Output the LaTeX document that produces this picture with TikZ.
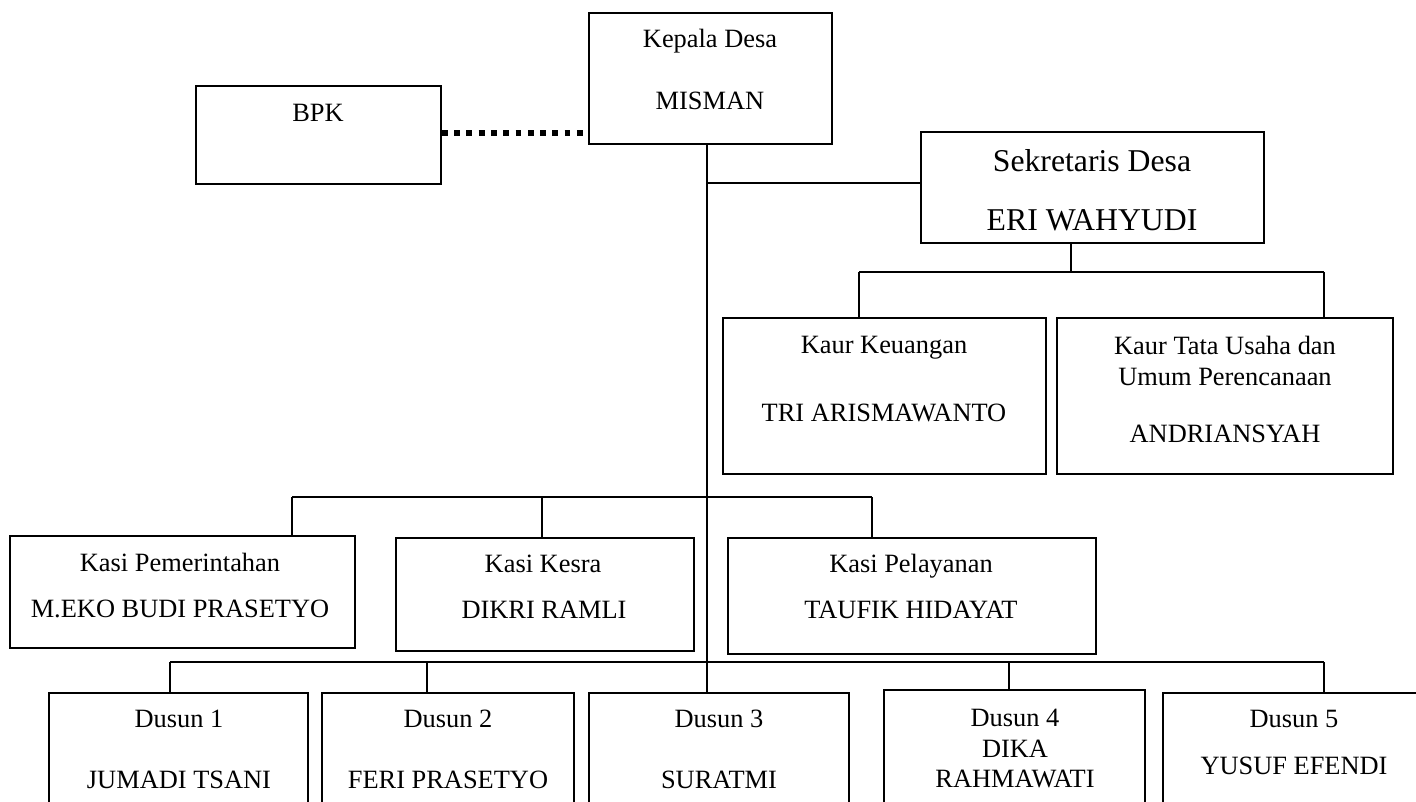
\documentclass[tikz,border=0pt]{standalone}
\usepackage{fontspec}
\setmainfont{Liberation Serif}
\newcommand\bx[5]{\node[box, minimum width={(#4-#2)*0.75pt}, minimum height={(#5-#3)*0.75pt}] (#1) at ({(#2+#4)/2},{(#3+#5)/2}) {};}
\begin{document}
\begin{tikzpicture}[x=0.75pt,y=-0.75pt,
  box/.style={draw, line width=1.4pt, inner sep=0pt},
  conn/.style={line width=1.1pt},
  dotconn/.style={line width=4pt, dash pattern=on 4.4pt off 4.8pt},
  txt/.style={inner sep=0pt, text height=13.1pt, text depth=0pt, font=\fontsize{19.8}{23}\selectfont},
  bigtxt/.style={inner sep=0pt, text height=15.75pt, text depth=0pt, font=\fontsize{23.8}{28}\selectfont}]
\useasboundingbox (0,0) rectangle (1416,802);
\clip (0,0) rectangle (1416,802);
% boxes
\bx{bpk}{196}{86}{441}{184}
\bx{kepala}{589}{13}{832}{144}
\bx{sekdes}{921}{132}{1264}{243}
\bx{kaurk}{723}{318}{1046}{474}
\bx{kaurt}{1057}{318}{1393}{474}
\bx{kasip}{10}{536}{355}{648}
\bx{kasik}{396}{538}{694}{651}
\bx{kasil}{728}{538}{1096}{654}
\bx{dus1}{49}{693}{308}{840}
\bx{dus2}{322}{693}{574}{840}
\bx{dus3}{589}{693}{849}{840}
\bx{dus4}{884}{690}{1145}{840}
\bx{dus5}{1163}{693}{1440}{840}
% texts
\node[txt] (tbpk) at (318,113) {BPK};
\node[txt] (tkep1) at (710,39) {Kepala Desa};
\node[txt] (tkep2) at (710,101) {MISMAN};
\node[bigtxt] (tsek1) at (1092,161) {Sekretaris Desa};
\node[bigtxt] (tsek2) at (1092,220) {ERI WAHYUDI};
\node[txt] (tkk1) at (884,345) {Kaur Keuangan};
\node[txt] (tkk2) at (884,413) {TRI ARISMAWANTO};
\node[txt] (tkt1) at (1225,346) {Kaur Tata Usaha dan};
\node[txt] (tkt2) at (1225,377) {Umum Perencanaan};
\node[txt] (tkt3) at (1225,434) {ANDRIANSYAH};
\node[txt] (tkp1) at (180,563) {Kasi Pemerintahan};
\node[txt] (tkp2) at (180,609) {M.EKO BUDI PRASETYO};
\node[txt] (tks1) at (543,564) {Kasi Kesra};
\node[txt] (tks2) at (544,610) {DIKRI RAMLI};
\node[txt] (tkl1) at (911,564) {Kasi Pelayanan};
\node[txt] (tkl2) at (911,610) {TAUFIK HIDAYAT};
\node[txt] (td11) at (179,719) {Dusun 1};
\node[txt] (td12) at (179,780) {JUMADI TSANI};
\node[txt] (td21) at (448,719) {Dusun 2};
\node[txt] (td22) at (448,780) {FERI PRASETYO};
\node[txt] (td31) at (719,719) {Dusun 3};
\node[txt] (td32) at (719,780) {SURATMI};
\node[txt] (td41) at (1015,718) {Dusun 4};
\node[txt] (td42) at (1015,749) {DIKA};
\node[txt] (td43) at (1015,779) {RAHMAWATI};
\node[txt] (td51) at (1294,719) {Dusun 5};
\node[txt] (td52) at (1294,766) {YUSUF EFENDI};
% junction coordinates
\coordinate (m) at (707,183);
\coordinate (s) at (1071,272);
\coordinate (kl) at (859,272);
\coordinate (kr) at (1324,272);
\coordinate (ka) at (292,497);
\coordinate (kb) at (542,497);
\coordinate (kc) at (872,497);
\coordinate (da) at (170,662);
\coordinate (db) at (427,662);
\coordinate (dd) at (1009,662);
\coordinate (de) at (1324,662);
% connectors
\draw[dotconn] (bpk.east |- 0,133) -- (kepala.west |- 0,133);
\draw[conn] (kepala.south -| m) -- (dus3.north -| m);
\draw[conn] (m) -- (sekdes.west |- m);
\draw[conn] (sekdes.south -| s) -- (s);
\draw[conn] (kl) -- (kr);
\draw[conn] (kl) -- (kaurk.north -| kl);
\draw[conn] (kr) -- (kaurt.north -| kr);
\draw[conn] (ka) -- (kc);
\draw[conn] (ka) -- (kasip.north -| ka);
\draw[conn] (kb) -- (kasik.north -| kb);
\draw[conn] (kc) -- (kasil.north -| kc);
\draw[conn] (da) -- (de);
\draw[conn] (da) -- (dus1.north -| da);
\draw[conn] (db) -- (dus2.north -| db);
\draw[conn] (dd) -- (dus4.north -| dd);
\draw[conn] (de) -- (dus5.north -| de);
\end{tikzpicture}
\end{document}
